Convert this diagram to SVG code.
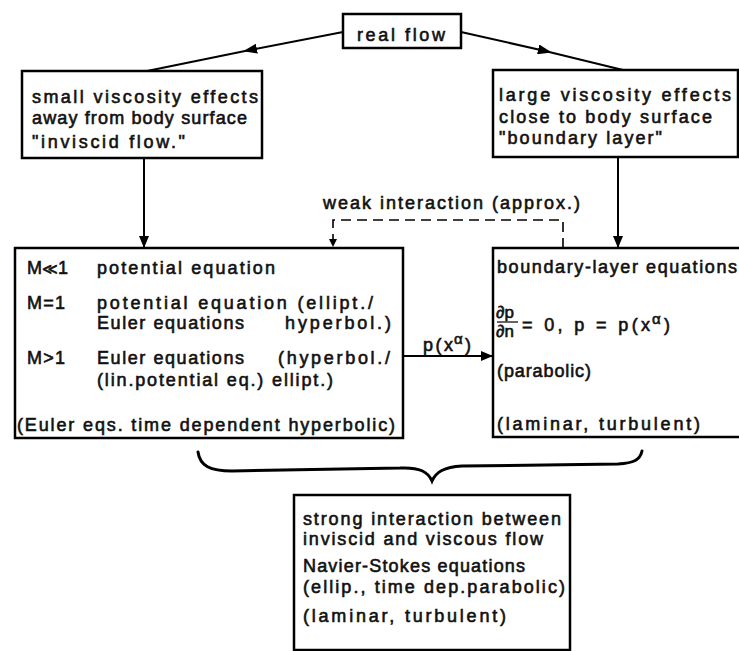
<svg xmlns="http://www.w3.org/2000/svg" width="739" height="651" viewBox="0 0 739 651">
<defs>
<style>
.bg{fill:#fff}
.box{fill:#fff;stroke:#000;stroke-width:2.5}
.t{font-family:"Liberation Sans",Arial,sans-serif;font-size:18px;fill:#111;stroke:#111;stroke-width:0.6}
.s{font-size:15px}
.f{font-size:17px}
.ln{fill:none;stroke:#000;stroke-width:2}
.dash{fill:none;stroke:#000;stroke-width:1.6;stroke-dasharray:10,6}
.brace{fill:none;stroke:#000;stroke-width:3;stroke-linecap:round}
</style>
<marker id="arr" viewBox="0 0 12 10" refX="12" refY="5" markerWidth="12" markerHeight="10" markerUnits="userSpaceOnUse" orient="auto"><path d="M0,0 L12,5 L0,10 z" fill="#000"/></marker>
<marker id="arrm" viewBox="0 0 14 10" refX="7" refY="5" markerWidth="14" markerHeight="10" markerUnits="userSpaceOnUse" orient="auto"><path d="M0,0 L14,5 L0,10 z" fill="#000"/></marker>
<marker id="arrs" viewBox="0 0 8 8" refX="8" refY="4" markerWidth="8" markerHeight="8" markerUnits="userSpaceOnUse" orient="auto"><path d="M0,0 L8,4 L0,8 z" fill="#000"/></marker>
</defs>
<rect class="bg" x="0" y="0" width="739" height="651"/>

<g id="connectors">
<path class="ln" d="M343,32 L250,50 L147,71" marker-mid="url(#arrm)"/>
<path class="ln" d="M461,32 L545,51 L623,70" marker-mid="url(#arrm)"/>
<path class="ln" d="M144,158 V248" marker-end="url(#arr)"/>
<path class="ln" d="M618,157 V248" marker-end="url(#arr)"/>
<path class="dash" d="M563,248 V220 H333 V247" marker-end="url(#arrs)"/>
<text class="t" x="323" y="209" textLength="257">weak interaction (approx.)</text>
<path class="ln" d="M403,356 H493" marker-end="url(#arr)"/>
<text class="t" x="423" y="351" textLength="30">p(x</text>
<text class="t s" x="454" y="344">α</text>
<text class="t" x="465" y="351">)</text>
<path class="brace" d="M198,452 C200,466 210,471 232,471 L400,468 C420,467 428,472 432,481 C436,472 444,467 462,466 L618,464 C634,463 640,460 642,451"/>
</g>

<g id="real-flow">
<rect class="box" x="343" y="14" width="118" height="34"/>
<text class="t" x="357" y="41" textLength="88">real flow</text>
</g>

<g id="inviscid">
<rect class="box" x="22" y="71" width="240" height="87"/>
<text class="t" x="32" y="103" textLength="226">small viscosity effects</text>
<text class="t" x="32" y="124" textLength="215">away from body surface</text>
<text class="t" x="32" y="148" textLength="153">"inviscid flow."</text>
</g>

<g id="boundary-layer">
<rect class="box" x="493" y="70" width="245" height="87"/>
<text class="t" x="499" y="101" textLength="232">large viscosity effects</text>
<text class="t" x="499" y="123" textLength="213">close to body surface</text>
<text class="t" x="499" y="144" textLength="163">"boundary layer"</text>
</g>

<g id="inviscid-equations">
<rect class="box" x="15" y="248" width="388" height="190"/>
<text class="t" x="27" y="274">M<tspan class="s">≪</tspan>1</text>
<text class="t" x="97" y="274" textLength="178">potential equation</text>
<text class="t" x="27" y="309" textLength="38">M=1</text>
<text class="t" x="97" y="309" textLength="276">potential equation (ellipt./</text>
<text class="t" x="97" y="329" textLength="147">Euler equations</text>
<text class="t" x="285" y="329" textLength="106">hyperbol.)</text>
<text class="t" x="27" y="364" textLength="38">M&gt;1</text>
<text class="t" x="97" y="364" textLength="147">Euler equations</text>
<text class="t" x="278" y="364" textLength="112">(hyperbol./</text>
<text class="t" x="97" y="386" textLength="236">(lin.potential eq.) ellipt.)</text>
<text class="t" x="17" y="431" textLength="378">(Euler eqs. time dependent hyperbolic)</text>
</g>

<g id="bl-equations">
<rect class="box" x="493" y="248" width="260" height="189"/>
<text class="t" x="497" y="273" textLength="240">boundary-layer equations</text>
<text class="t f" x="496" y="318">∂p</text>
<line x1="497" y1="322" x2="518" y2="322" stroke="#000" stroke-width="1.2"/>
<text class="t f" x="496" y="337">∂n</text>
<text class="t" x="522" y="331" textLength="128">= 0, p = p(x</text>
<text class="t s" x="652" y="324">α</text>
<text class="t" x="664" y="331">)</text>
<text class="t" x="497" y="377" textLength="94">(parabolic)</text>
<text class="t" x="497" y="430" textLength="203">(laminar, turbulent)</text>
</g>

<g id="strong-interaction">
<rect class="box" x="294" y="495" width="276" height="155"/>
<text class="t" x="303" y="525" textLength="258">strong interaction between</text>
<text class="t" x="303" y="545" textLength="240">inviscid and viscous flow</text>
<text class="t" x="303" y="572" textLength="222">Navier-Stokes equations</text>
<text class="t" x="303" y="593" textLength="262">(ellip., time dep.parabolic)</text>
<text class="t" x="303" y="622" textLength="203">(laminar, turbulent)</text>
</g>
</svg>
